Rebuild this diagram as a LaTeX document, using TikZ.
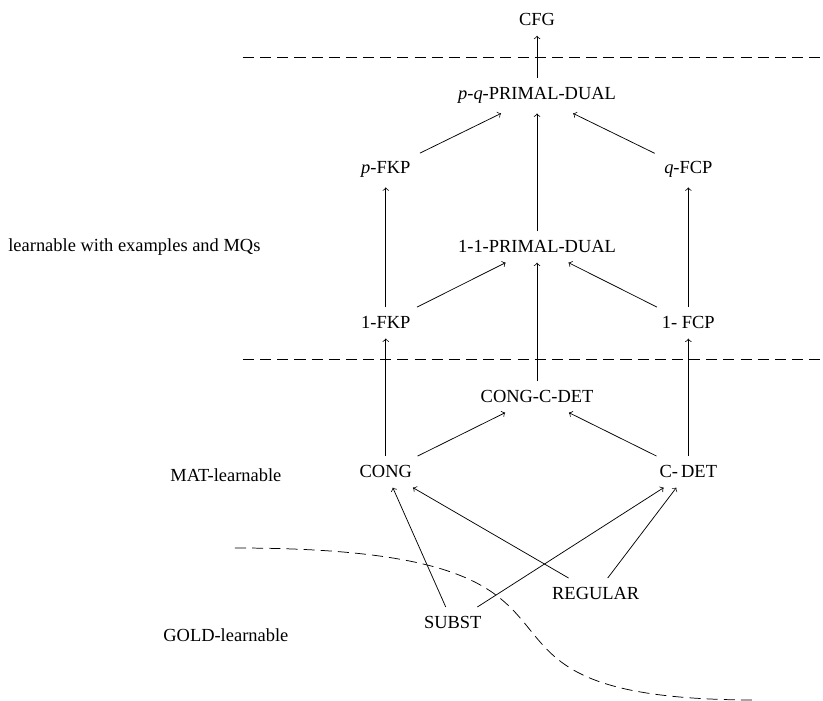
\documentclass[tikz,border=0pt]{standalone}
\usepackage{fontspec}
\setmainfont{Liberation Serif}
\usetikzlibrary{
    calc,
    positioning
}

\begin{document}
\begin{tikzpicture}[
    auto,
    cls/.style = {
        inner sep=5pt,
        anchor=base
    },
    region/.style = {
        anchor=base west,
        inner sep=0pt
    },
    border/.style = {
        dash pattern=on 6pt off 3.3pt
    },
]
    \matrix [
        ampersand replacement=\&,
        column sep={82pt,between origins},
        row sep={40.1pt,between origins}
    ] {
        % Top row
        \& \node [cls] (cfg) {CFG}; \& \\
        \& \node [cls] (pq_primal_dual) {\textit{p}-\textit{q}-PRIMAL-DUAL}; \& \\
        \node [cls] (p_fkp) {\textit{p}-FKP};
        \& \& \node [cls] (q_fcp) {\textit{q}-FCP}; \\ [2.7pt]
        \& \node [cls] (one_primal_dual) {1-1-PRIMAL-DUAL}; \& \\ [1.1pt]
        \node [cls] (one_fkp) {1-FKP};
        \& \& \node [cls] (one_fcp) {1- FCP}; \\
        \& \node [cls] (cong_c_det) {CONG-C-DET}; \& \\ [0.55pt]
        % MAT row
        \node [cls] (cong) {CONG};
        \& \& \node [cls] (c_det) {C-\,DET}; \\
    };

    \node [cls, on grid, below right=81.8pt and 36.3pt of cong] (subst) {SUBST};
    \node [cls, on grid, below right=66.1pt and 113.8pt of cong] (regular) {REGULAR};

    \draw [->] (pq_primal_dual) -- (cfg);
    \draw [->] (p_fkp) -- (pq_primal_dual);
    \draw [->] (one_primal_dual) -- (pq_primal_dual);
    \draw [->] (q_fcp) -- (pq_primal_dual);

    \draw [->] (one_fkp) -- (p_fkp);
    \draw [->] (one_fcp) -- (q_fcp);
    \draw [->] (one_fkp) -- (one_primal_dual);
    \draw [->] (one_fcp) -- (one_primal_dual);
    \draw [->] (cong_c_det) -- (one_primal_dual);

    \draw [->] (cong) -- (one_fkp);
    \draw [->] (c_det) -- (one_fcp);
    \draw [->] (cong) -- (cong_c_det);
    \draw [->] (c_det) -- (cong_c_det);

    \draw [->] (subst) -- (cong);
    \draw [->] (subst) -- (c_det);
    \draw [->] (regular) -- (cong);
    \draw [->] (regular) -- (c_det);

    % frame in pixels of the page
    \coordinate (origin) at ($(cfg.center)+(-291.1pt,10.8pt)$);
    \begin{scope}[shift={(origin)}, x=0.542pt, y=-0.542pt]
        \draw [border] (243,57) -- (823,57);
        \draw [border] (243,359) -- (823,359);
        \draw [border] (235,548) .. controls (671,548) and (399,700) .. (757,700);

        \node [region] (mq_label) at (8,251) {learnable with examples and MQs};
        \node [region] (mat_label) at (170,481) {MAT-learnable};
        \node [region] (gold_label) at (163,641) {GOLD-learnable};

        \pgfresetboundingbox
        \useasboundingbox (0,0) rectangle (823,701);
    \end{scope}
\end{tikzpicture}
\end{document}
